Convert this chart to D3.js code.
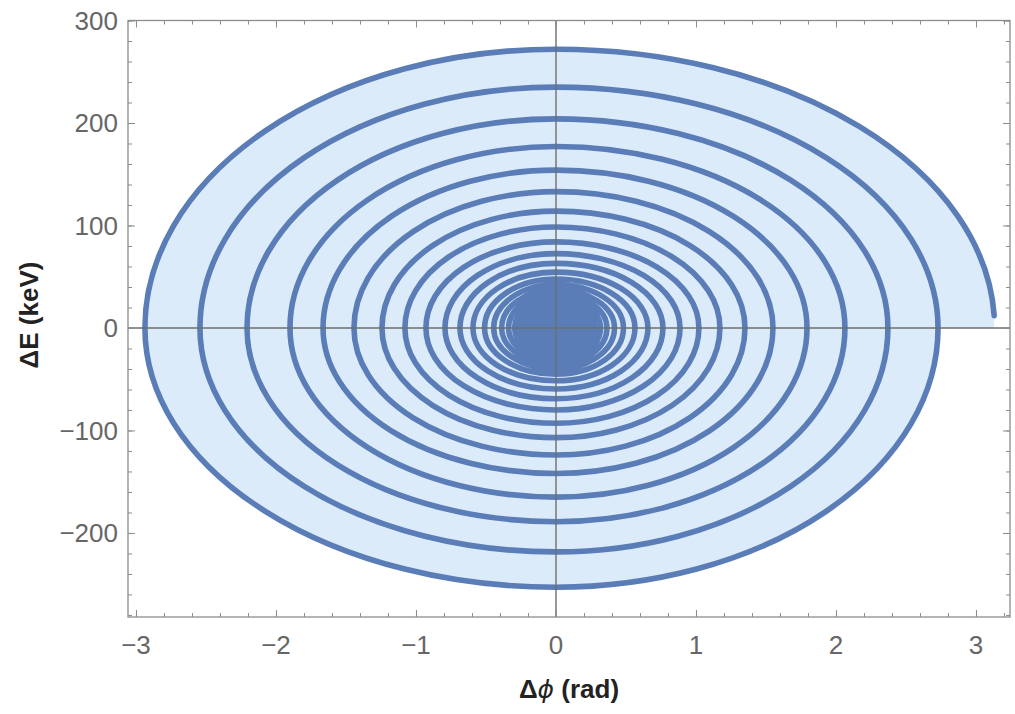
<!DOCTYPE html>
<html>
<head>
<meta charset="utf-8">
<script src="https://cdn.jsdelivr.net/npm/d3@7"></script>
<style>
  html, body { margin: 0; padding: 0; background: #ffffff; }
  svg { display: block; }
</style>
</head>
<body>
<svg id="chart" width="1015" height="714"></svg>
<script>
// ---------------- data ----------------
const phaseTicks = [-3, -2, -1, 0, 1, 2, 3];
const energyTicks = [-200, -100, 0, 100, 200, 300];
const phaseTickLabels = ["\u22123", "\u22122", "\u22121", "0", "1", "2", "3"];
const energyTickLabels = ["\u2212200", "\u2212100", "0", "100", "200", "300"];

// trajectory start point [Δϕ, ΔE]
const startPoint = [3.13, 12];

// Δϕ where the trajectory crosses ΔE = 0 (index 0 = start radius), alternating right / left
const phaseCrossings = [
  3.13, -2.936, 2.729, -2.543, 2.371, -2.207, 2.064, -1.900, 1.793, -1.664,
  1.550, -1.443, 1.350, -1.243, 1.171, -1.079, 1.021, -0.929, 0.886, -0.793,
  0.764, -0.686, 0.657, -0.593, 0.564, -0.510, 0.482, -0.445, 0.418, -0.388,
  0.364, -0.339, 0.318, -0.296, 0.278, -0.259, 0.243, -0.226, 0.212, -0.198,
  0.185, -0.172, 0.161, -0.150, 0.141, -0.131, 0.123, -0.114, 0.107, -0.100,
  0.093, -0.087, 0.081, -0.076, 0.071, -0.066, 0.062, -0.058, 0.054, -0.050,
  0.047, -0.044, 0.041, -0.038, 0.036, -0.033, 0.031, -0.029, 0.027, -0.025,
  0.023, -0.021, 0.019, -0.017, 0.015, -0.013, 0.011
];

// ΔE where the trajectory crosses Δϕ = 0, alternating top / bottom
const energyCrossings = [
  272, -253, 235, -218.5, 204, -189, 177, -165, 154, -142,
  133, -124, 114, -107, 98.5, -93, 84, -80, 72.5, -69,
  63, -59.5, 54.5, -51.5, 47.8, -45.2, 42.4, -40, 37.6, -35.5,
  33.4, -31.4, 29.6, -27.8, 26.2, -24.7, 23.2, -21.9, 20.6, -19.4,
  18.3, -17.2, 16.2, -15.3, 14.4, -13.6, 12.8, -12.0, 11.3, -10.7,
  10.0, -9.5, 8.9, -8.4, 7.9, -7.5, 7.0, -6.6, 6.2, -5.9,
  5.5, -5.2, 4.9, -4.6, 4.3, -4.0, 3.8, -3.5, 3.3, -3.0,
  2.8, -2.5, 2.3, -2.0, 1.8, -1.5, 1.3
];

const xLabelText = ["\u0394", "\u03D5", " (rad)"];
const yLabelText = "\u0394E (keV)";

// ---------------- layout ----------------
const svg = d3.select("#chart");
const plot = { left: 128, right: 1010, top: 20.5, bottom: 617 };

const x = d3.scaleLinear().domain([-3.057, 3.243]).range([plot.left, plot.right]);
const y = d3.scaleLinear().domain([-282, 300]).range([plot.bottom, plot.top]);

const curveColor = "#5a7db7";
const fillColor = "#dcebfa";
const frameColor = "#8c8c8c";
const tickLabelColor = "#666666";

svg.append("defs").append("clipPath").attr("id", "clip")
  .append("rect")
  .attr("x", plot.left).attr("y", plot.top)
  .attr("width", plot.right - plot.left).attr("height", plot.bottom - plot.top);

const g = svg.append("g").attr("clip-path", "url(#clip)");

const x0 = x(0), y0 = y(0);

// ---------------- filling to the axis (outermost turn) ----------------
{
  let p = `M${x(startPoint[0])},${y0}L${x(startPoint[0])},${y(startPoint[1])}`;
  for (let i = 0; i < 2; i++) {
    const ry = Math.abs(y(energyCrossings[i]) - y0);
    const rx1 = Math.abs(x(phaseCrossings[i]) - x0);
    p += `A${rx1},${ry} 0 0 0 ${x0},${y(energyCrossings[i])}`;
    const rx2 = Math.abs(x(phaseCrossings[i + 1]) - x0);
    p += `A${rx2},${ry} 0 0 0 ${x(phaseCrossings[i + 1])},${y0}`;
  }
  p += "Z";
  g.append("path").attr("d", p).attr("fill", fillColor).attr("stroke", "none");
}

// ---------------- trajectory ----------------
{
  let p = `M${x(startPoint[0])},${y(startPoint[1])}`;
  for (let i = 0; i < energyCrossings.length; i++) {
    const ry = Math.abs(y(energyCrossings[i]) - y0);
    const rx1 = Math.abs(x(phaseCrossings[i]) - x0);
    p += `A${rx1},${ry} 0 0 0 ${x0},${y(energyCrossings[i])}`;
    if (i + 1 < phaseCrossings.length) {
      const rx2 = Math.abs(x(phaseCrossings[i + 1]) - x0);
      p += `A${rx2},${ry} 0 0 0 ${x(phaseCrossings[i + 1])},${y0}`;
    }
  }
  g.append("path").attr("d", p)
    .attr("fill", "none")
    .attr("stroke", curveColor)
    .attr("stroke-width", 5.6)
    .attr("stroke-linecap", "round")
    .attr("stroke-linejoin", "round");
}

// ---------------- zero axes ----------------
g.append("line")
  .attr("x1", plot.left).attr("x2", plot.right).attr("y1", y0).attr("y2", y0)
  .attr("stroke", "#6e6e6e").attr("stroke-width", 1.4);
g.append("line")
  .attr("x1", x0).attr("x2", x0).attr("y1", plot.top).attr("y2", plot.bottom)
  .attr("stroke", "#6e6e6e").attr("stroke-width", 1.4);

// ---------------- frame with ticks ----------------
const xMinor = d3.range(-3, 3.21, 0.2).map(v => +v.toFixed(2));
const yMinor = d3.range(-280, 301, 20);

function styleAxis(sel) {
  sel.select(".domain").remove();
  sel.selectAll(".tick line").attr("stroke", frameColor).attr("stroke-width", 1);
  sel.selectAll(".tick text").remove();
}

const axes = [
  { gen: d3.axisBottom, scale: x, tr: `translate(0,${plot.bottom})`, major: phaseTicks, minor: xMinor },
  { gen: d3.axisTop, scale: x, tr: `translate(0,${plot.top})`, major: phaseTicks, minor: xMinor },
  { gen: d3.axisLeft, scale: y, tr: `translate(${plot.left},0)`, major: energyTicks, minor: yMinor },
  { gen: d3.axisRight, scale: y, tr: `translate(${plot.right},0)`, major: energyTicks, minor: yMinor }
];
axes.forEach(a => {
  svg.append("g").attr("transform", a.tr)
    .call(a.gen(a.scale).tickValues(a.minor).tickSize(-4).tickFormat(""))
    .call(styleAxis);
  svg.append("g").attr("transform", a.tr)
    .call(a.gen(a.scale).tickValues(a.major).tickSize(-7).tickFormat(""))
    .call(styleAxis);
});

svg.append("rect")
  .attr("x", plot.left).attr("y", plot.top)
  .attr("width", plot.right - plot.left).attr("height", plot.bottom - plot.top)
  .attr("fill", "none").attr("stroke", frameColor).attr("stroke-width", 1.3);

// ---------------- tick labels ----------------
const font = "'Liberation Sans', Arial, sans-serif";
svg.append("g").selectAll("text").data(phaseTicks).join("text")
  .attr("x", d => x(d)).attr("y", 654)
  .attr("text-anchor", "middle")
  .attr("font-family", font).attr("font-size", 26)
  .attr("fill", tickLabelColor)
  .text((d, i) => phaseTickLabels[i]);

svg.append("g").selectAll("text").data(energyTicks).join("text")
  .attr("x", 118).attr("y", d => y(d))
  .attr("dy", "0.35em")
  .attr("text-anchor", "end")
  .attr("font-family", font).attr("font-size", 26)
  .attr("fill", tickLabelColor)
  .text((d, i) => energyTickLabels[i]);

// ---------------- axis titles ----------------
const xt = svg.append("text")
  .attr("x", 569).attr("y", 698)
  .attr("text-anchor", "middle")
  .attr("font-family", font).attr("font-size", 26).attr("font-weight", "bold")
  .attr("fill", "#222222");
xt.append("tspan").text(xLabelText[0]);
xt.append("tspan").attr("font-style", "italic").attr("font-weight", "normal").attr("font-family", "'DejaVu Sans', sans-serif").attr("font-size", 25).text(xLabelText[1]);
xt.append("tspan").text(xLabelText[2]);

svg.append("text")
  .attr("transform", `translate(38,315) rotate(-90)`)
  .attr("text-anchor", "middle")
  .attr("font-family", font).attr("font-size", 26).attr("font-weight", "bold")
  .attr("fill", "#222222")
  .text(yLabelText);
</script>
</body>
</html>
